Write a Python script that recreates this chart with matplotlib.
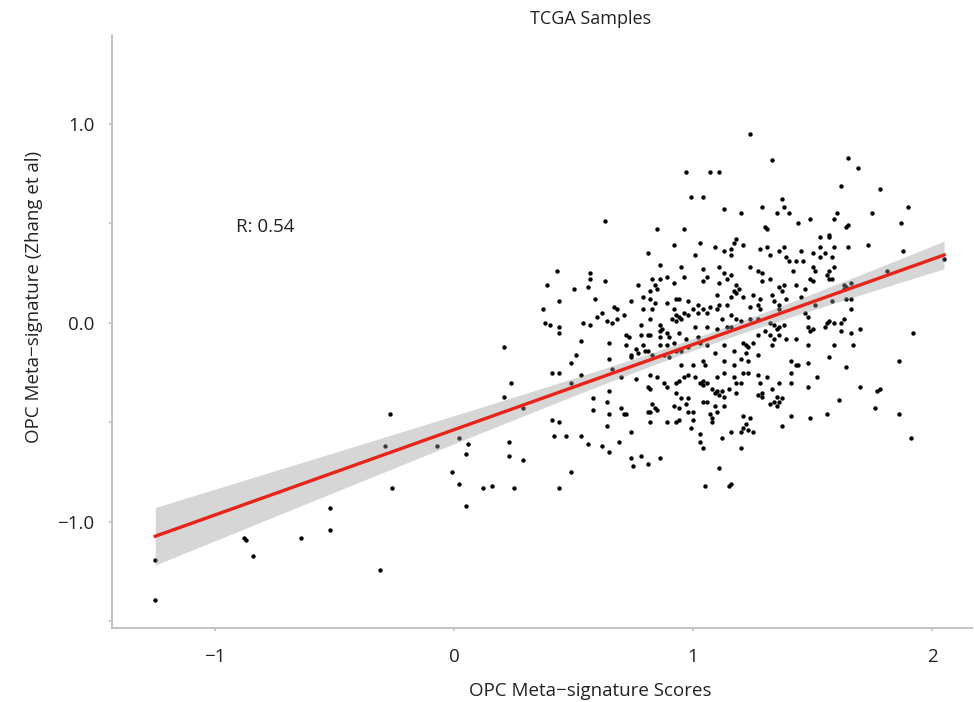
import matplotlib
matplotlib.use('Agg')
import matplotlib.pyplot as plt
import numpy as np

# (OPC meta-signature score, Zhang et al signature) pairs
left_tail = [
    (-1.25, -1.19), (-1.25, -1.39), (-0.88, -1.08), (-0.87, -1.09), (-0.84, -1.17), (-0.64, -1.08),
    (-0.52, -0.93), (-0.52, -1.04), (-0.31, -1.24), (-0.27, -0.46), (-0.29, -0.62), (-0.26, -0.83),
    (-0.07, -0.62), (0.02, -0.58), (0.06, -0.61), (0.05, -0.66), (-0.01, -0.75), (0.02, -0.81),
    (0.05, -0.92), (0.12, -0.83), (0.16, -0.82), (0.25, -0.83), (0.44, -0.83),
    (0.21, -0.12), (0.24, -0.30), (0.21, -0.37), (0.29, -0.43), (0.23, -0.60), (0.23, -0.67),
    (0.29, -0.69), (0.43, 0.26), (0.39, 0.19), (0.44, 0.11), (0.37, 0.07), (0.38, 0.00),
    (0.40, -0.01), (0.44, -0.02), (0.44, -0.05), (0.41, -0.25), (0.44, -0.25), (0.41, -0.49),
    (0.44, -0.50), (0.42, -0.57),
]

upper_group = [
    (1.24, 0.95), (0.97, 0.76), (1.07, 0.76), (1.11, 0.76), (0.99, 0.63), (1.04, 0.63), (1.13, 0.57),
    (1.20, 0.55), (0.63, 0.51), (0.85, 0.47), (0.96, 0.47), (0.92, 0.39), (1.03, 0.40), (1.18, 0.42),
    (1.17, 0.40), (1.21, 0.39), (1.09, 0.38), (0.81, 0.35), (1.01, 0.34), (1.13, 0.36), (1.16, 0.37),
    (1.16, 0.34), (1.28, 0.37), (1.33, 0.82), (1.65, 0.83), (1.69, 0.78), (1.62, 0.69), (1.78, 0.67),
    (1.37, 0.62), (1.29, 0.58), (1.38, 0.58), (1.40, 0.55), (1.35, 0.55), (1.90, 0.58), (1.75, 0.55),
    (1.60, 0.55), (1.59, 0.52), (1.49, 0.52), (1.44, 0.50), (1.87, 0.50), (1.30, 0.48), (1.31, 0.47),
    (1.65, 0.49), (1.64, 0.48), (1.57, 0.44), (1.57, 0.43), (1.53, 0.43), (1.73, 0.39), (1.65, 0.38),
    (1.59, 0.38), (1.53, 0.38), (1.31, 0.38), (1.38, 0.38), (1.36, 0.36), (1.45, 0.36), (1.50, 0.35),
    (1.55, 0.35), (1.32, 0.34), (1.88, 0.36), (1.53, 0.33), (1.39, 0.33),
]

middle_left = [
    (0.86, 0.29), (0.95, 0.28), (1.04, 0.27), (1.11, 0.28), (1.13, 0.25), (1.16, 0.24), (1.24, 0.28),
    (0.57, 0.25), (0.57, 0.22), (0.63, 0.21), (0.56, 0.18), (0.50, 0.17), (0.77, 0.19), (0.83, 0.22),
    (0.86, 0.22), (0.89, 0.23), (0.84, 0.19), (0.92, 0.20), (0.96, 0.23), (1.04, 0.21), (1.06, 0.23),
    (1.11, 0.20), (1.14, 0.22), (1.18, 0.19), (1.19, 0.17),
    (0.59, 0.12), (0.74, 0.11), (0.79, 0.13), (0.82, 0.16), (0.85, 0.17), (0.82, 0.12), (0.84, 0.10),
    (0.89, 0.10), (0.93, 0.12), (0.94, 0.12), (0.92, 0.07), (0.98, 0.11), (1.02, 0.09), (1.04, 0.07),
    (1.07, 0.08), (1.10, 0.14), (1.11, 0.09), (1.14, 0.09), (1.16, 0.13), (1.17, 0.16), (1.18, 0.15),
    (1.21, 0.13), (1.24, 0.08), (1.25, 0.14),
    (0.67, 0.08), (0.68, 0.07), (0.62, 0.05), (0.60, 0.03), (0.54, 0.00), (0.57, -0.01), (0.64, 0.01),
    (0.66, 0.00), (0.68, 0.02), (0.71, 0.04), (0.79, 0.07), (0.83, 0.07), (0.93, 0.04), (0.94, 0.03),
    (0.96, 0.05), (0.98, 0.04), (1.00, 0.07), (1.02, 0.05), (1.06, 0.05), (1.10, 0.07), (1.12, 0.02),
    (1.16, 0.04), (1.18, 0.02), (1.20, 0.01), (1.24, 0.02),
    (0.78, -0.01), (0.82, 0.02), (0.86, -0.01), (0.86, -0.04), (0.87, -0.03), (0.89, -0.05), (0.91, 0.02),
    (0.93, 0.01), (0.95, 0.02), (1.01, -0.02), (1.06, -0.02), (1.10, -0.03), (1.14, -0.02), (1.16, -0.02),
    (0.72, -0.06), (0.73, -0.07), (0.78, -0.06), (0.81, -0.06), (0.82, -0.06), (0.86, -0.07), (0.90, -0.07),
    (0.94, -0.05), (0.97, -0.08), (1.02, -0.07),
    (0.53, -0.09), (0.65, -0.10), (0.72, -0.11), (0.76, -0.13), (0.79, -0.11), (0.80, -0.14), (0.81, -0.14),
    (0.86, -0.11), (0.89, -0.11), (0.92, -0.10), (0.93, -0.14), (0.95, -0.14), (0.98, -0.12), (1.03, -0.10),
    (1.06, -0.11), (1.13, -0.11), (1.21, -0.10), (1.22, -0.11), (1.23, -0.12), (1.25, -0.10),
    (0.51, -0.16), (0.74, -0.17), (0.74, -0.16), (0.77, -0.15), (0.83, -0.16), (0.88, -0.16), (0.90, -0.17),
    (1.09, -0.15), (1.17, -0.14), (1.22, -0.15),
    (0.49, -0.20), (0.65, -0.18), (0.66, -0.23), (0.95, -0.21), (1.00, -0.21), (1.04, -0.19), (1.05, -0.21),
    (1.13, -0.19), (1.17, -0.21), (1.20, -0.18), (1.23, -0.19),
]

middle_right = [
    (1.40, 0.31), (1.43, 0.31), (1.46, 0.31), (1.58, 0.33), (1.27, 0.26), (1.29, 0.21), (1.29, 0.25),
    (1.32, 0.22), (1.38, 0.19), (1.42, 0.26), (1.43, 0.19), (1.47, 0.17), (1.49, 0.22), (1.50, 0.21),
    (1.50, 0.28), (1.51, 0.26), (1.56, 0.24), (1.57, 0.22), (1.58, 0.22), (1.59, 0.28), (1.57, 0.26),
    (1.33, 0.14), (1.36, 0.18), (1.37, 0.16), (1.28, 0.12), (1.27, 0.09), (1.28, 0.07), (1.34, 0.11),
    (1.36, 0.09), (1.36, 0.07), (1.39, 0.12), (1.45, 0.13), (1.51, 0.09), (1.47, 0.05), (1.48, 0.03),
    (1.63, 0.19), (1.64, 0.18), (1.63, 0.17), (1.66, 0.20), (1.64, 0.12), (1.66, 0.12), (1.66, 0.07),
    (1.58, 0.11), (1.81, 0.26),
    (1.27, 0.02), (1.32, 0.00), (1.34, -0.01), (1.35, -0.03), (1.36, -0.02), (1.38, -0.01), (1.30, -0.04),
    (1.27, -0.06), (1.32, -0.06), (1.34, -0.08), (1.36, -0.06), (1.39, -0.08), (1.43, -0.08), (1.48, -0.02),
    (1.50, -0.03), (1.49, -0.04), (1.55, -0.02), (1.56, 0.00), (1.57, 0.01), (1.59, 0.00), (1.62, 0.00),
    (1.63, 0.02), (1.62, -0.04), (1.66, -0.05), (1.70, -0.03), (1.92, -0.05),
    (1.33, -0.11), (1.48, -0.11), (1.59, -0.11), (1.67, -0.11), (1.57, -0.17), (1.41, -0.19), (1.43, -0.21),
    (1.44, -0.21), (1.48, -0.20), (1.64, -0.22), (1.86, -0.19), (1.27, -0.16), (2.05, 0.32),
]

lower_left = [
    (0.49, -0.30), (0.53, -0.26), (0.70, -0.27), (0.76, -0.28), (0.82, -0.26), (0.85, -0.27), (0.81, -0.32),
    (0.82, -0.33), (0.65, -0.34), (0.58, -0.38), (0.64, -0.40), (0.58, -0.44), (0.65, -0.46), (0.70, -0.43),
    (0.71, -0.46), (0.72, -0.46), (0.83, -0.41), (0.84, -0.43), (0.82, -0.45), (0.81, -0.45), (0.85, -0.44),
    (0.82, -0.50), (0.89, -0.50),
    (0.88, -0.30), (0.89, -0.32), (0.93, -0.35), (0.93, -0.30), (0.94, -0.29), (0.96, -0.27), (0.98, -0.26),
    (1.01, -0.27), (1.03, -0.30), (1.04, -0.29), (1.04, -0.31), (1.06, -0.30), (1.08, -0.33), (1.09, -0.35),
    (1.10, -0.34), (1.11, -0.36), (1.12, -0.34), (1.10, -0.27), (1.13, -0.25), (1.17, -0.27), (1.18, -0.30),
    (1.20, -0.30), (1.21, -0.25), (1.23, -0.25), (1.18, -0.35), (1.15, -0.33), (1.13, -0.37),
    (0.98, -0.38), (0.95, -0.38), (0.92, -0.42), (0.94, -0.43), (0.97, -0.41), (0.98, -0.45), (1.00, -0.45),
    (1.04, -0.40), (1.06, -0.40), (1.09, -0.42), (1.13, -0.42), (1.07, -0.46), (1.08, -0.48), (1.10, -0.45),
    (0.93, -0.50), (0.94, -0.49), (1.00, -0.49), (0.99, -0.53), (1.08, -0.50),
    (0.64, -0.52), (0.74, -0.55), (0.47, -0.57), (0.53, -0.57), (0.56, -0.61), (0.62, -0.62), (0.69, -0.60),
    (0.65, -0.65), (0.74, -0.68), (0.78, -0.67), (0.86, -0.68), (0.75, -0.72), (0.81, -0.71), (0.49, -0.75),
    (1.03, -0.56), (1.03, -0.60), (1.04, -0.63), (1.12, -0.58), (1.16, -0.55), (1.20, -0.55), (1.21, -0.53),
    (1.22, -0.51), (1.23, -0.54), (1.21, -0.47), (1.24, -0.48), (1.20, -0.63), (1.11, -0.73), (1.25, -0.55),
]

lower_right = [
    (1.27, -0.26), (1.31, -0.27), (1.28, -0.30), (1.41, -0.30), (1.41, -0.25), (1.52, -0.27), (1.36, -0.30),
    (1.33, -0.33), (1.29, -0.35), (1.27, -0.36), (1.29, -0.37), (1.35, -0.37), (1.37, -0.38), (1.36, -0.40),
    (1.32, -0.41), (1.34, -0.40), (1.35, -0.42), (1.48, -0.32), (1.61, -0.39), (1.70, -0.32), (1.77, -0.34),
    (1.78, -0.33), (1.76, -0.43), (1.86, -0.46), (1.56, -0.46), (1.41, -0.47), (1.49, -0.48), (1.37, -0.52),
    (1.91, -0.58), (1.05, -0.82), (1.15, -0.82), (1.16, -0.81),
]

r_value = 0.54
y_ticks = [-1.5, -1.0, -0.5, 0.0, 0.5, 1.0]
y_tick_labels = ['', '\u22121.0', '', '0.0', '', '1.0']
x_ticks = [-1, 0, 1, 2]


def fit_line(x, y, n_grid=100):
    """least squares line with a 95% confidence band"""
    slope, intercept = np.polyfit(x, y, 1)
    xs = np.linspace(x.min(), x.max(), n_grid)
    fit = intercept + slope * xs
    n = len(x)
    resid = y - (intercept + slope * x)
    s = np.sqrt(np.sum(resid ** 2) / (n - 2))
    sxx = np.sum((x - x.mean()) ** 2)
    se = s * np.sqrt(1.0 / n + (xs - x.mean()) ** 2 / sxx)
    return xs, fit, fit - 1.965 * se, fit + 1.965 * se


def main():
    plt.rcParams['font.family'] = ['Open Sans', 'DejaVu Sans']
    grey = '#bdbdbd'

    pts = np.array(left_tail + upper_group + middle_left + middle_right + lower_left + lower_right)
    x, y = pts[:, 0], pts[:, 1]

    fig = plt.figure(figsize=(9.74, 7.02), dpi=100)
    ax = fig.add_axes([0.115, 0.1054, 0.883, 0.845])

    ax.scatter(x, y, s=10, c='black', linewidths=0, zorder=2)
    xs, fit, lo, hi = fit_line(x, y)
    ax.fill_between(xs, lo, hi, color='#999999', alpha=0.4, linewidth=0, zorder=3)
    ax.plot(xs, fit, color='#e8231a', lw=2.4, zorder=4)

    ax.text(-0.912, 0.457, 'R: %.2f' % r_value, fontsize=13.5, color='#222222', ha='left', va='baseline')

    ax.set_xlim(-1.431, 2.167)
    ax.set_ylim(-1.533, 1.447)
    ax.set_xticks(x_ticks)
    ax.set_yticks(y_ticks)
    ax.set_yticklabels(y_tick_labels)

    for side in ['top', 'right']:
        ax.spines[side].set_visible(False)
    for side in ['left', 'bottom']:
        ax.spines[side].set_color(grey)
        ax.spines[side].set_linewidth(1.3)

    ax.tick_params(axis='both', direction='out', length=2.5, width=1.2, color=grey,
                   labelsize=13.5, labelcolor='#222222')
    ax.tick_params(axis='x', pad=12)
    ax.tick_params(axis='y', pad=10)

    ax.set_title('TCGA Samples', fontsize=13, color='#222222', x=0.556, pad=8)
    ax.set_xlabel('OPC Meta\u2212signature Scores', fontsize=13.5, color='#222222')
    ax.set_ylabel('OPC Meta\u2212signature (Zhang et al)', fontsize=13.5, color='#222222')
    ax.xaxis.set_label_coords(0.556, -0.091)
    ax.yaxis.set_label_coords(-0.080, 0.558)

    fig.savefig('out.png', dpi=100)


if __name__ == '__main__':
    main()
